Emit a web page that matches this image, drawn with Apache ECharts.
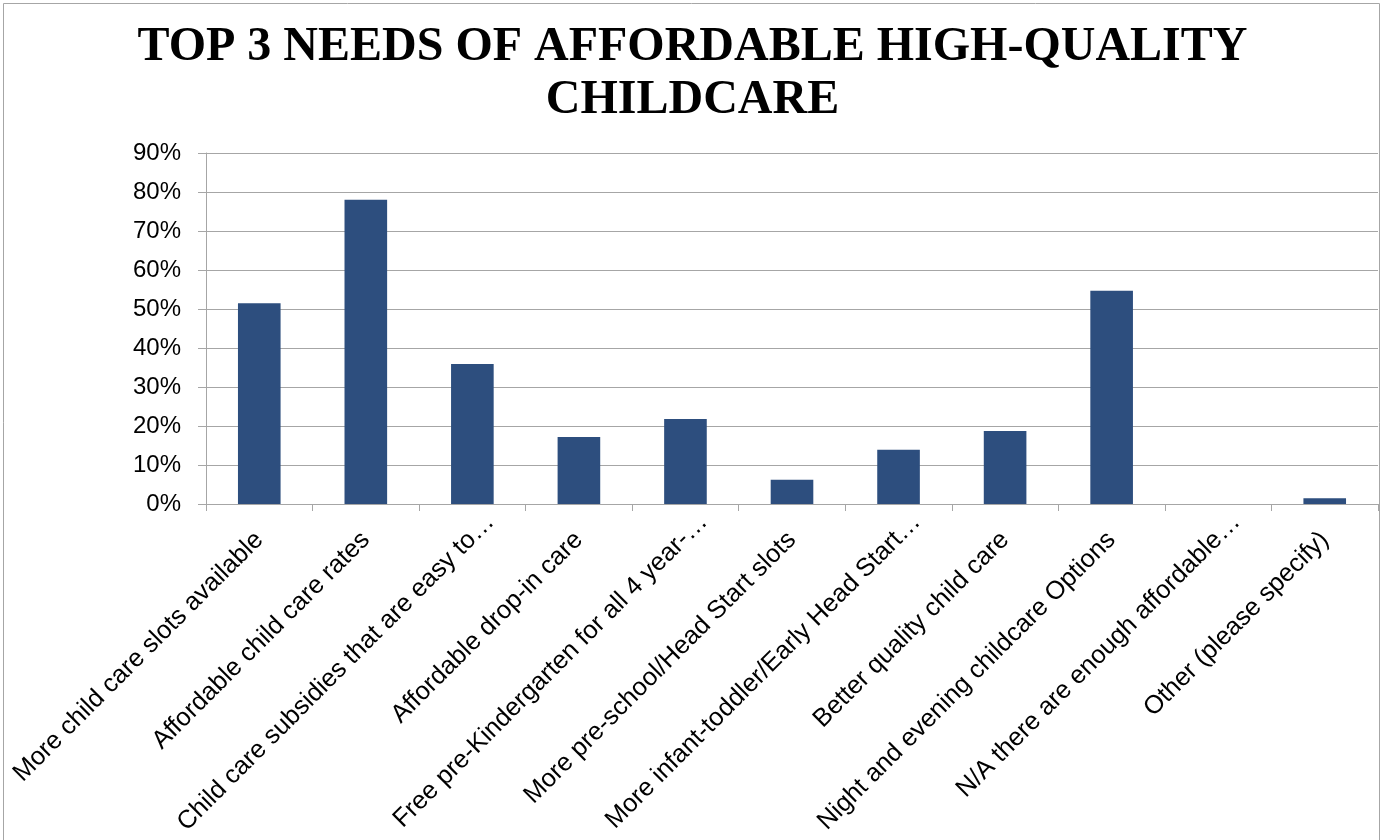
<!DOCTYPE html>
<html>
<head>
<meta charset="utf-8">
<script src="https://cdn.jsdelivr.net/npm/echarts@6/dist/echarts.min.js"></script>
<style>
  html, body { margin: 0; padding: 0; background: #fff; }
  #main { width: 1385px; height: 840px; }
</style>
</head>
<body>
<div id="main"></div>
<script>
var categories = [
  "More child care slots available",
  "Affordable child care rates",
  "Child care subsidies that are easy to…",
  "Affordable drop-in care",
  "Free pre-Kindergarten for all 4 year-…",
  "More pre-school/Head Start slots",
  "More infant-toddler/Early Head Start…",
  "Better quality child care",
  "Night and evening childcare Options",
  "N/A there are enough affordable…",
  "Other (please specify)"
];
// percent of respondents
var values = [51.5, 78.0, 35.9, 17.2, 21.8, 6.2, 13.9, 18.7, 54.7, 0, 1.5];
var yTicks = { min: 0, max: 90, interval: 10 };

var labelFont = { fontFamily: "Liberation Sans", fontSize: 25.5, color: "#000" };

var chart = echarts.init(document.getElementById("main"));

var option = {
  animation: false,
  title: {
    text: "TOP 3 NEEDS OF AFFORDABLE HIGH-QUALITY\nCHILDCARE",
    left: "center",
    top: 21,
    padding: 0,
    textStyle: {
      fontFamily: "Liberation Serif",
      fontWeight: "bold",
      fontSize: 48,
      lineHeight: 53,
      color: "#000"
    }
  },
  graphic: [
    {
      type: "rect",
      shape: { x: 3.5, y: 3.5, width: 1376, height: 850 },
      style: { fill: "none", stroke: "#a6a6a6", lineWidth: 1 },
      silent: true
    }
  ],
  grid: {
    left: 206,
    right: 7,
    top: 153,
    bottom: 336,
    containLabel: false,
    outerBoundsMode: "none"
  },
  xAxis: {
    type: "category",
    data: categories,
    axisLine: { lineStyle: { color: "#a6a6a6", width: 1 } },
    axisTick: { show: true, length: 7, lineStyle: { color: "#a6a6a6" } },
    axisLabel: {
      interval: 0,
      rotate: 45,
      margin: 32,
      color: "#000",
      fontFamily: "Liberation Sans",
      fontSize: 25.5,
      // truncated labels: the ellipsis hangs past the anchor, like Excel
      formatter: function (v) {
        if (v.slice(-1) === "…") {
          return "{t|" + v.slice(0, -1) + "}{e|…}";
        }
        return "{t|" + v + "}";
      },
      rich: {
        t: labelFont,
        e: Object.assign({ padding: [0, -25.5, 0, 0] }, labelFont)
      }
    }
  },
  yAxis: {
    type: "value",
    min: yTicks.min,
    max: yTicks.max,
    interval: yTicks.interval,
    axisLine: { show: true, lineStyle: { color: "#a6a6a6", width: 1 } },
    axisTick: { show: true, length: 8, lineStyle: { color: "#a6a6a6" } },
    splitLine: { show: true, lineStyle: { color: "#a6a6a6", width: 1 } },
    axisLabel: {
      margin: 25,
      color: "#000",
      fontFamily: "Liberation Sans",
      fontSize: 24,
      formatter: "{value}%"
    }
  },
  series: [
    {
      type: "bar",
      data: values,
      barWidth: "40%",
      itemStyle: {
        color: "#2d4e7e",
        borderWidth: 0
      }
    }
  ]
};

chart.setOption(option);
</script>
</body>
</html>
